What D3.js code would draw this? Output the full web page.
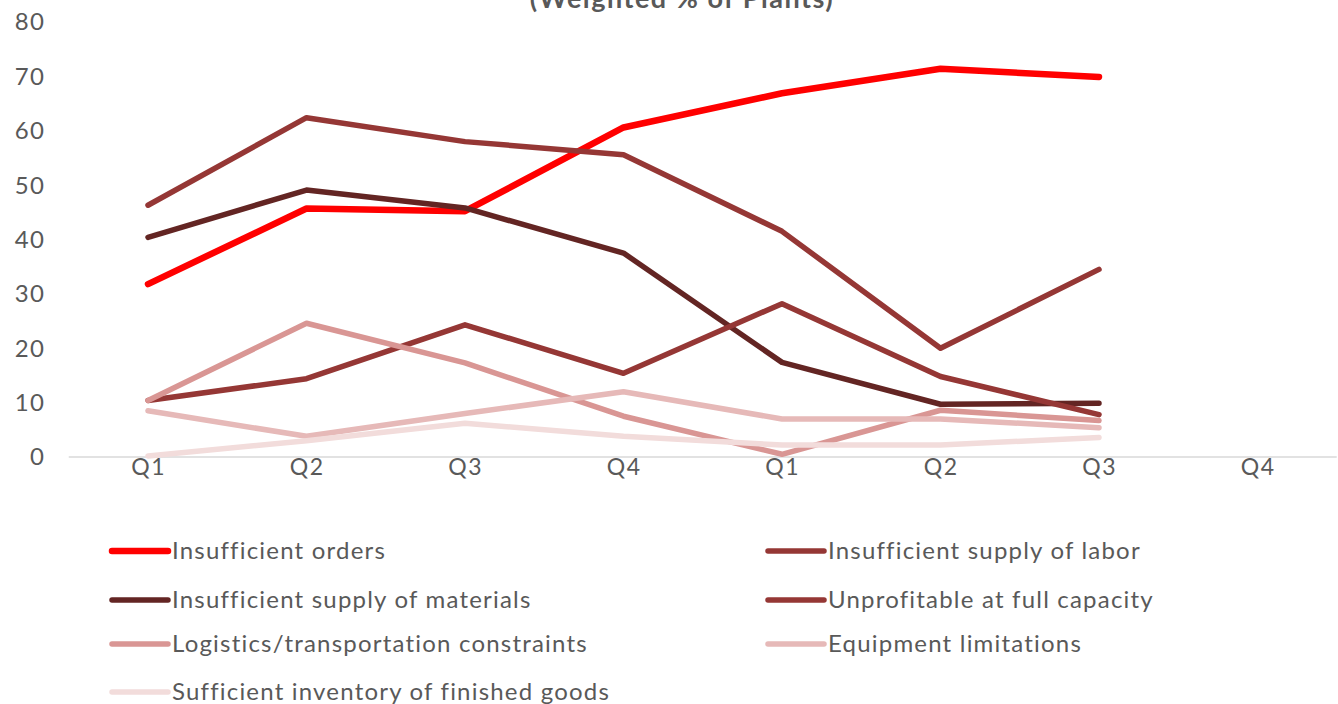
<!DOCTYPE html>
<html><head><meta charset="utf-8">
<script src="https://cdn.jsdelivr.net/npm/d3@7"></script>
<style>body{margin:0;background:#fff;} svg{display:block;font-family:Lato,"Noto Sans",sans-serif;}</style>
</head><body>
<svg id="c" width="1338" height="704"></svg>
<script>
const categories = ["Q1","Q2","Q3","Q4","Q1","Q2","Q3","Q4"];
const yTicks = [0,10,20,30,40,50,60,70,80];
const seriesNames = ["Insufficient orders","Insufficient supply of labor","Insufficient supply of materials","Unprofitable at full capacity","Logistics/transportation constraints","Equipment limitations","Sufficient inventory of finished goods"];
const insufficientOrders = [31.8,45.7,45.2,60.6,66.9,71.4,69.9];
const insufficientLabor = [46.3,62.4,58.0,55.6,41.5,20.0,34.5];
const insufficientMaterials = [40.4,49.1,45.8,37.5,17.4,9.7,9.9];
const unprofitable = [10.4,14.4,24.3,15.4,28.2,14.8,7.8];
const logistics = [10.4,24.6,17.3,7.5,0.5,8.6,6.7];
const equipment = [8.5,3.8,8.0,12.0,7.0,7.0,5.4];
const inventory = [0.2,3.0,6.2,3.8,2.2,2.2,3.6];
const seriesColors = ["#ff0000","#953735","#632523","#953735","#d99694","#e6b9b8","#f2dcdb"];
const seriesValues = [insufficientOrders,insufficientLabor,insufficientMaterials,unprofitable,logistics,equipment,inventory];

const svg = d3.select("#c");
const txt = "#595959";
const x = d3.scaleBand().domain(d3.range(categories.length)).range([68.75,1336.75]);
const y = d3.scaleLinear().domain([0,80]).range([457,22]);

// title (partially cut off at top)
svg.append("text").attr("x",682).attr("y",8).attr("text-anchor","middle")
  .attr("font-size",27).attr("font-weight","bold").attr("letter-spacing",1.5).attr("fill",txt).text("(Weighted % of Plants)");

// y axis labels
yTicks.forEach(t=>{
  svg.append("text").attr("x",45.5).attr("y",y(t)).attr("dy","0.35em").attr("text-anchor","end")
    .attr("font-size",24).attr("letter-spacing",1.5).attr("fill",txt).text(t);
});
// x axis line
svg.append("line").attr("x1",68.75).attr("x2",1336.75).attr("y1",y(0)).attr("y2",y(0))
  .attr("stroke","#d9d9d9").attr("stroke-width",1.5);
categories.forEach((c,i)=>{
  svg.append("text").attr("x",x(i)+x.bandwidth()/2+0.75).attr("y",475).attr("text-anchor","middle")
    .attr("font-size",23).attr("letter-spacing",1.5).attr("fill",txt).text(c);
});

const line = d3.line().x((d,i)=>x(i)+x.bandwidth()/2).y(d=>y(d));
seriesValues.forEach((vals,k)=>{
  svg.append("path").attr("d",line(vals)).attr("fill","none").attr("stroke",seriesColors[k])
    .attr("stroke-width",k===0?6.5:5.5).attr("stroke-linecap","round").attr("stroke-linejoin","round");
});

// legend
const legRows = [551,600,644,692];
seriesNames.forEach((n,k)=>{
  const col = k%2, row = Math.floor(k/2);
  const x0 = col===0?112:768, yy = legRows[row];
  svg.append("line").attr("x1",x0).attr("x2",x0+56).attr("y1",yy).attr("y2",yy)
    .attr("stroke",seriesColors[k]).attr("stroke-width",k===0?6.5:5.5).attr("stroke-linecap","round");
  svg.append("text").attr("x",x0+60).attr("y",yy).attr("dy","0.35em").attr("font-size",24)
    .attr("letter-spacing",1.2).attr("fill",txt).text(n);
});
</script>
</body></html>
